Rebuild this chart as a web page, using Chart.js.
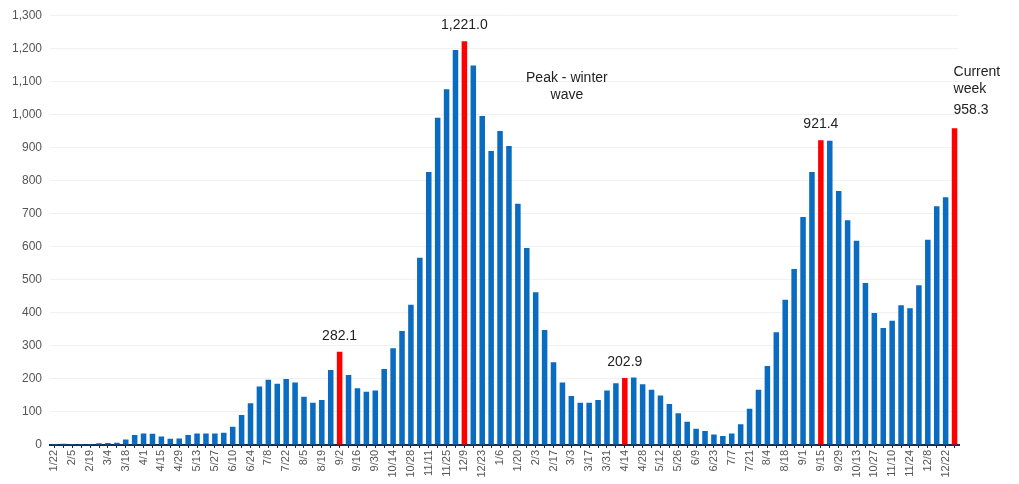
<!DOCTYPE html>
<html>
<head>
<meta charset="utf-8">
<script src="https://cdn.jsdelivr.net/npm/chart.js@4.4.1/dist/chart.umd.min.js"></script>
<style>
  html, body { margin: 0; padding: 0; background: #fff; }
  #wrap { width: 1019px; height: 484px; position: relative; }
</style>
</head>
<body>
<div id="wrap"><canvas id="chart"></canvas></div>
<script>
// weekly dates, 1/22/2020 .. 12/29/2021
const weeks = [
  '1/22','1/29','2/5','2/12','2/19','2/26','3/4','3/11','3/18','3/25',
  '4/1','4/8','4/15','4/22','4/29','5/6','5/13','5/20','5/27','6/3',
  '6/10','6/17','6/24','7/1','7/8','7/15','7/22','7/29','8/5','8/12',
  '8/19','8/26','9/2','9/9','9/16','9/23','9/30','10/7','10/14','10/21',
  '10/28','11/4','11/11','11/18','11/25','12/2','12/9','12/16','12/23','12/30',
  '1/6','1/13','1/20','1/27','2/3','2/10','2/17','2/24','3/3','3/10',
  '3/17','3/24','3/31','4/7','4/14','4/21','4/28','5/5','5/12','5/19',
  '5/26','6/2','6/9','6/16','6/23','6/30','7/7','7/14','7/21','7/28',
  '8/4','8/11','8/18','8/25','9/1','9/8','9/15','9/22','9/29','10/6',
  '10/13','10/20','10/27','11/3','11/10','11/17','11/24','12/1','12/8','12/15',
  '12/22','12/29'
];

const values = [
  3, 4, 3, 3, 3, 5, 6, 7, 17, 30,
  35, 34, 26, 19, 20, 30, 35, 35, 35, 37,
  55, 91, 126, 177, 197, 185, 200, 189, 146, 128,
  136, 227, 282.1, 212, 172, 161, 165, 230, 293, 345,
  424, 566, 826, 990, 1076, 1195, 1221.0, 1148, 995, 889,
  950, 904, 730, 596, 462, 348, 250, 189, 148, 128,
  128, 136, 165, 187, 202.9, 204, 184, 167, 150, 124,
  96, 70, 49, 42, 32, 27, 35, 63, 110, 167,
  239, 341, 439, 532, 690, 826, 921.4, 920, 768, 680,
  618, 490, 399, 354, 376, 423, 414, 483, 621, 722,
  749, 958.3
];

// highlighted weeks (index into weeks) and their callout text
const peakIdx = [32, 46, 64, 86, 101];
const peakText = ['282.1', '1,221.0', '202.9', '921.4', '958.3'];

const yTicks = [0, 100, 200, 300, 400, 500, 600, 700, 800, 900, 1000, 1100, 1200, 1300];

const BLUE = '#0a6cc0';
const RED = '#ff0000';

const barColors = values.map((v, i) => peakIdx.includes(i) ? RED : BLUE);

// callouts above the red bars plus free text notes
const notesPlugin = {
  id: 'notes',
  afterDatasetsDraw(chart) {
    const { ctx, scales: { x, y } } = chart;
    ctx.save();
    ctx.font = '14px "Liberation Sans", Arial, sans-serif';
    ctx.fillStyle = '#222';
    ctx.textBaseline = 'middle';
    peakIdx.forEach((idx, k) => {
      if (idx === values.length - 1) return; // current week drawn separately
      ctx.textAlign = 'center';
      ctx.fillText(peakText[k], x.getPixelForValue(idx), y.getPixelForValue(values[idx]) - 16);
    });
    // current week
    const last = values.length - 1;
    const lx = x.getPixelForValue(last) - 1;
    const ly = y.getPixelForValue(values[last]);
    ctx.textAlign = 'left';
    ctx.fillText('Current', lx, ly - 56);
    ctx.fillText('week', lx, ly - 39);
    ctx.fillText(peakText[peakText.length - 1], lx, ly - 18);
    // winter wave note
    const px = (x.getPixelForValue(57) + x.getPixelForValue(58)) / 2;
    ctx.textAlign = 'center';
    ctx.fillText('Peak - winter', px, y.getPixelForValue(1110));
    ctx.fillText('wave', px, y.getPixelForValue(1058));
    ctx.restore();
  }
};

new Chart(document.getElementById('chart'), {
  type: 'bar',
  data: {
    labels: weeks,
    datasets: [{
      data: values,
      backgroundColor: barColors,
      borderWidth: 0,
      barPercentage: 0.62,
      categoryPercentage: 1.0
    }]
  },
  options: {
    responsive: true,
    maintainAspectRatio: false,
    animation: false,
    layout: { padding: { top: 10, right: 60, left: 0, bottom: 0 } },
    plugins: {
      legend: { display: false },
      tooltip: { enabled: false }
    },
    scales: {
      x: {
        offset: true,
        grid: {
          offset: false,
          drawOnChartArea: false,
          drawTicks: true,
          tickLength: 3,
          color: '#1b2a48'
        },
        border: { color: '#1b2a48', width: 2 },
        ticks: {
          autoSkip: false,
          minRotation: 90,
          maxRotation: 90,
          padding: 2,
          color: '#555',
          font: { family: '"Liberation Sans", Arial, sans-serif', size: 11 },
          callback: function(value, index) {
            return index % 2 === 0 ? weeks[index] : '';
          }
        },
        afterFit: function(scale) { scale.height = 39; }
      },
      y: {
        min: 0,
        max: 1300,
        afterBuildTicks: function(scale) {
          scale.ticks = yTicks.map(v => ({ value: v }));
        },
        grid: { color: '#f1f1f1', drawTicks: false },
        border: { display: false },
        ticks: {
          padding: 8,
          color: '#555',
          font: { family: '"Liberation Sans", Arial, sans-serif', size: 12 },
          callback: function(value) { return value.toLocaleString('en-US'); }
        },
        afterFit: function(scale) { scale.width = 50; }
      }
    }
  },
  plugins: [notesPlugin]
});
</script>
</body>
</html>
